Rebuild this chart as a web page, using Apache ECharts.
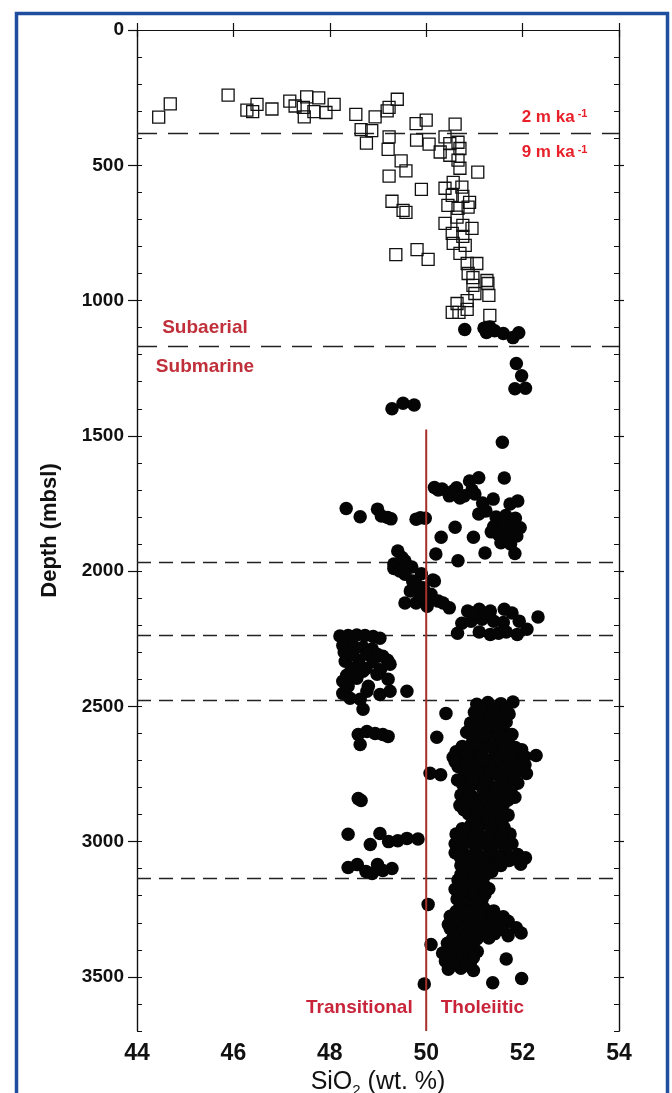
<!DOCTYPE html>
<html><head><meta charset="utf-8">
<script src="https://cdn.jsdelivr.net/npm/echarts@6/dist/echarts.min.js"></script>
<style>html,body{margin:0;padding:0;background:#fff}#c{width:672px;height:1093px}</style>
</head><body><div id="c"></div>
<script>
// ---- Data (SiO2 wt.%, depth mbsl) ----
const subaerialLavas = [
[44.45,322],[44.69,273],[45.89,241],[46.28,296],[46.4,302],[46.49,275],[46.8,292],[47.17,263],[47.28,281],[47.45,286],[47.47,321],[47.52,247],[47.67,302],[47.77,251],[47.92,305],[48.09,275],
[48.54,312],[48.94,321],[48.65,368],[48.87,372],[48.76,418],[49.23,395],[49.21,441],[49.4,256],[49.23,286],[49.19,299],[49.79,346],[50.0,333],[49.8,407],[50.06,422],[49.48,484],[49.58,521],[49.23,540],[49.9,589],[49.29,633],[49.52,667],[49.58,674],[49.37,830],[49.81,812],[50.04,848],
[50.6,348],[50.39,395],[50.49,420],[50.66,415],[50.29,451],[50.49,463],[50.7,438],[50.66,481],[50.7,511],[51.07,525],[50.56,563],[50.39,585],[50.74,581],[50.54,611],[50.76,615],[50.9,637],[50.45,648],[50.66,659],[50.87,655],[50.64,692],[50.39,715],[50.76,722],[50.95,733],[50.54,752],[50.76,763],[50.56,789],[50.81,796],[50.7,826],[50.85,863],[51.05,863],[50.87,900],[50.97,915],[51.26,926],[50.97,944],[51.28,937],[51.01,974],[51.3,981],[50.85,1000],[50.64,1011],[50.54,1044],[50.68,1044],[50.85,1033],[51.32,1055]
];
const submarineUpper = [
[50.8,1107],[51.2,1102],[51.32,1098],[51.42,1112],[51.6,1122],[51.8,1137],[51.92,1119],[51.25,1118],
[51.87,1233],[51.98,1278],[51.84,1326],[52.06,1324],
[49.29,1400],[49.52,1380],[49.75,1386],
[51.58,1524],[51.62,1656],
[50.17,1691],[50.33,1697],[50.48,1722],[50.63,1692],[50.79,1722],[50.9,1667],[51.09,1655],[51.01,1715],[51.17,1748],[51.39,1734],[51.09,1789],[51.24,1778],[51.74,1752],[51.9,1741],[50.25,1700],[50.55,1705],[50.95,1700],[50.7,1730],
[48.34,1769],[48.63,1799],[48.99,1771],[49.07,1796],[49.2,1802],[49.27,1807],[49.79,1808],[49.98,1805],[49.88,1803],
[50.6,1838],[50.31,1875],[50.98,1875],[50.2,1937],[50.66,1962],[51.22,1933],
[51.45,1800],[51.65,1795],[51.85,1805],[51.4,1835],[51.6,1830],[51.8,1835],[51.95,1840],[51.5,1865],[51.7,1862],[51.88,1870],[51.55,1895],[51.75,1900],[51.84,1935],[51.35,1855],
[49.41,1926],[49.33,1974],[49.56,1963],[49.7,1985],[49.9,2010],[49.33,1990],[49.56,2012],[49.72,2037],[49.94,2062],[50.17,2037],[50.1,2086],[49.56,2118],[49.79,2118],[50.02,2130],[50.25,2111],[50.48,2136],[49.87,2086],[49.67,2074],[50.14,2033],[49.5,1950],[49.45,2000],[49.8,2050],[50.0,2100],[50.35,2118],
[50.86,2148],[51.1,2141],[51.33,2148],[51.62,2141],[51.78,2155],[52.32,2170],[50.74,2193],[50.93,2185],[51.16,2178],[51.4,2185],[51.6,2190],[51.93,2185],[50.65,2230],[51.33,2234],[51.5,2230],[51.89,2234],[52.09,2215],[51.1,2225],[51.66,2225],[50.96,2155]
];
const submarineLower = [
[48.21,2240],[48.38,2238],[48.56,2236],[48.73,2238],[48.9,2242],[49.04,2248],
[48.27,2275],[48.48,2275],[48.69,2282],[48.88,2288],
[48.3,2300],[48.6,2330],[48.9,2335],[49.2,2330],[48.45,2360],[48.75,2360],[49.05,2365],[48.35,2385],
[48.32,2333],[48.48,2307],[48.77,2307],[48.98,2307],[49.1,2315],[49.25,2344],
[48.27,2407],[48.56,2396],[48.69,2370],[48.98,2381],[49.21,2400],[49.6,2444],
[48.27,2452],[48.42,2470],[48.63,2474],[48.77,2444],[49.04,2456],[49.25,2444],[48.38,2426],[48.8,2426],
[48.69,2511],
[48.59,2604],[48.77,2593],[48.94,2600],[49.1,2604],[49.21,2611],[48.63,2641],
[48.59,2841],
[48.65,2848],[48.38,2973],[48.84,3011],[49.04,2970],[49.22,3000],[49.41,2997],[49.6,2988],[49.83,2990],[48.38,3096],[48.57,3085],[48.88,3118],[48.99,3085],[49.29,3099],[49.1,3107],[48.75,3110],
[51.05,2492],[51.28,2486],[51.55,2490],[51.8,2484],
[50.41,2526],[51.0,2522],[51.22,2530],[51.47,2524],[51.72,2528],
[50.92,2562],[51.15,2556],[51.4,2564],[51.66,2558],
[50.84,2596],[51.1,2592],[51.36,2600],[51.62,2594],[51.78,2604],
[50.22,2614],
[50.96,2632],[51.22,2628],[51.5,2636],
[50.62,2668],[50.86,2662],[51.12,2670],[51.42,2664],[51.7,2668],[51.98,2660],
[50.56,2688],[50.72,2696],[51.02,2692],[51.3,2698],[51.6,2690],[51.9,2700],[52.28,2682],
[50.66,2722],[50.92,2716],[51.2,2724],[51.5,2718],[51.8,2726],[52.05,2716],
[50.08,2747],[50.3,2753],[50.8,2752],[51.1,2758],[51.4,2750],[51.7,2756],[52.08,2748],
[50.76,2790],[51.04,2786],[51.32,2794],[51.62,2788],[51.9,2784],
[50.72,2828],[50.96,2834],[51.26,2826],[51.56,2832],[51.84,2836],
[50.7,2866],[51.0,2862],[51.3,2870],[51.6,2864],
[50.88,2898],[51.14,2904],[51.44,2896],[51.7,2902],
[50.94,2936],[51.2,2932],[51.5,2940],
[50.62,2972],[50.86,2966],[51.1,2974],[51.4,2968],[51.74,2972],
[50.6,3008],[50.9,3002],[51.2,3010],[51.5,3004],[51.78,3008],
[50.6,3041],[50.78,3044],[51.02,3038],[51.32,3046],[51.62,3040],[51.9,3048],[52.06,3060],
[50.86,3072],[51.12,3068],[51.42,3076],[51.72,3070],[51.96,3084],
[50.84,3106],[51.1,3102],[51.36,3110],
[50.66,3142],[50.92,3138],[51.16,3146],
[50.6,3176],[50.86,3172],[51.1,3180],[51.3,3174],
[50.64,3212],[50.9,3208],[51.16,3214],
[50.04,3232],[50.7,3242],[50.96,3238],[51.2,3246],
[50.5,3276],[50.76,3272],[51.02,3280],[51.3,3274],[51.6,3278],
[50.46,3306],[50.72,3302],[50.98,3310],[51.22,3304],[51.5,3308],[51.87,3318],
[50.6,3342],[50.86,3338],[51.12,3346],[51.42,3340],[51.7,3348],[51.97,3338],
[50.1,3380],[50.44,3376],[50.7,3372],[50.96,3380],
[50.34,3412],[50.6,3408],[50.86,3414],[51.06,3406],
[50.4,3442],[50.66,3438],[50.92,3446],[51.66,3434],
[50.46,3472],[50.72,3468],[50.98,3476],
[51.98,3506],[51.38,3522],[49.96,3526],
[51.15,2508],[51.4,2506],[51.65,2510],
[51.1,2543],[51.33,2540],[51.58,2545],
[51.0,2578],[51.25,2576],[51.5,2580],
[50.97,2612],[51.23,2610],[51.48,2615],[51.7,2618],
[50.75,2648],[51.05,2645],[51.35,2650],[51.62,2646],[51.85,2652],
[50.84,2680],[51.15,2678],[51.45,2682],[51.75,2676],[52.05,2686],
[50.6,2705],[50.85,2708],[51.15,2704],[51.45,2707],[51.75,2710],
[50.8,2738],[51.05,2736],[51.35,2740],[51.62,2735],[51.92,2740],
[50.65,2772],[50.95,2770],[51.25,2774],[51.55,2770],[51.82,2776],
[50.88,2808],[51.18,2806],[51.46,2810],[51.76,2806],
[50.84,2848],[51.12,2846],[51.42,2850],[51.7,2846],
[50.78,2882],[51.05,2880],[51.3,2884],[51.55,2880],
[51.02,2918],[51.3,2916],[51.58,2920],
[50.75,2952],[51.06,2950],[51.34,2954],[51.62,2950],
[50.7,2988],[50.98,2986],[51.28,2990],[51.58,2986],
[50.72,3022],[51.05,3020],[51.36,3024],[51.66,3020],
[50.7,3056],[50.96,3054],[51.2,3058],[51.5,3056],[51.78,3058],
[50.72,3088],[50.98,3086],[51.26,3090],[51.55,3088],
[50.72,3122],[51.0,3120],[51.22,3124],
[50.76,3158],[51.02,3156],[51.2,3160],
[50.72,3192],[50.98,3190],[51.22,3194],
[50.78,3226],[51.05,3224],
[50.62,3258],[50.88,3256],[51.12,3260],[51.4,3256],
[50.6,3290],[50.86,3288],[51.12,3292],[51.38,3290],[51.7,3294],
[50.5,3322],[50.78,3320],[51.05,3324],[51.3,3322],[51.6,3326],
[50.55,3358],[50.82,3356],[51.05,3360],[51.3,3356],
[50.55,3392],[50.78,3390],[50.98,3394],
[50.5,3425],[50.76,3424],[50.98,3428],
[50.55,3456],[50.82,3458]
];
const rateBoundaryDepths = [380];
const environmentBoundaryDepths = [1170];
const chemBoundaryDepths = [1968, 2237, 2479, 3137];
const alkalicDivideLine = [[50, 1477], [50, 3700]];
const xTickValues = [44, 46, 48, 50, 52, 54];
const depthLabelValues = [0, 500, 1000, 1500, 2000, 2500, 3000, 3500];
const depthMinorValues = [0,100,200,300,400,500,600,700,800,900,1000,1100,1200,1300,1400,1500,1600,1700,1800,1900,2000,2100,2200,2300,2400,2500,2600,2700,2800,2900,3000,3100,3200,3300,3400,3500,3600,3700];

const FONT = "'Liberation Sans', Arial, Helvetica, sans-serif";
const chart = echarts.init(document.getElementById('c'), null, {renderer: 'canvas'});
const axisLineStyle = {color: '#111', width: 1.2};
const baseY = (extra) => Object.assign({
  type: 'value', inverse: true, min: 0, max: 3700,
  axisLine: {show: true, lineStyle: axisLineStyle},
  splitLine: {show: false}, axisLabel: {show: false}
}, extra);
const baseX = (extra) => Object.assign({
  type: 'value', min: 44, max: 54, interval: 2,
  axisLine: {show: true, lineStyle: axisLineStyle},
  splitLine: {show: false}
}, extra);

const dashLong = {type: [20, 11], color: '#222', width: 1.3};
const dashShort = {type: [14, 8], color: '#222', width: 1.3};
const supRich = {
  r: {fontSize: 17, fontWeight: 'bold', color: '#e8202a', fontFamily: FONT, verticalAlign: 'top', lineHeight: 18},
  sup: {fontSize: 11, fontWeight: 'bold', color: '#e8202a', fontFamily: FONT, verticalAlign: 'top', lineHeight: 11}
};

const option = {
  animation: false,
  backgroundColor: '#ffffff',
  grid: {left: 137, top: 30, width: 482, height: 1001, containLabel: false, outerBoundsMode: 'none'},
  xAxis: [
    baseX({position: 'bottom',
      axisTick: {inside: true, length: 7, lineStyle: {color: '#111', width: 1.2}, customValues: xTickValues},
      axisLabel: {fontSize: 23, fontWeight: 'bold', color: '#111', fontFamily: FONT, margin: 11, customValues: xTickValues},
      name: '{n|SiO}{s|2}{n| (wt. %)}', nameLocation: 'middle', nameGap: 36,
      nameTextStyle: {rich: {
        n: {fontSize: 25, fontFamily: FONT, color: '#111', verticalAlign: 'bottom', lineHeight: 28},
        s: {fontSize: 15, fontFamily: FONT, color: '#111', verticalAlign: 'bottom', lineHeight: 15, padding: [0, 0, -3, 0]}
      }}
    }),
    baseX({position: 'top', axisTick: {inside: false, length: -7, lineStyle: {color: '#111', width: 1.2}, customValues: xTickValues}, axisLabel: {show: false}})
  ],
  yAxis: [
    baseY({position: 'left',
      axisTick: {inside: false, length: 9, lineStyle: {color: '#111', width: 1.2}, customValues: depthLabelValues},
      axisLabel: {show: true, fontSize: 19, fontWeight: 'bold', color: '#111', fontFamily: FONT, margin: 13,
        customValues: depthLabelValues, formatter: (v) => String(v)},
      name: 'Depth (mbsl)', nameLocation: 'middle', nameGap: 76, nameRotate: 90,
      nameTextStyle: {fontSize: 22, fontWeight: 'bold', color: '#111', fontFamily: FONT}
    }),
    baseY({position: 'left', axisTick: {inside: true, length: 5, lineStyle: {color: '#111', width: 1}, customValues: depthMinorValues}}),
    baseY({position: 'right', axisTick: {inside: false, length: 5, lineStyle: {color: '#111', width: 1.2}, customValues: depthLabelValues.slice(1)}}),
    baseY({position: 'right', axisTick: {inside: true, length: 5, lineStyle: {color: '#111', width: 1}, customValues: depthMinorValues}})
  ],
  series: [
    {
      name: 'Subaerial', type: 'scatter', xAxisIndex: 0, yAxisIndex: 0,
      symbol: 'rect', symbolSize: 12, data: subaerialLavas, z: 3,
      itemStyle: {color: 'rgba(255,255,255,0)', borderColor: '#111', borderWidth: 1.3, opacity: 1}
    },
    {
      name: 'Submarine upper', type: 'scatter', xAxisIndex: 0, yAxisIndex: 0,
      symbol: 'circle', symbolSize: 13.5, data: submarineUpper, z: 3,
      itemStyle: {color: '#050505', opacity: 1},
      markLine: {
        silent: true, symbol: ['none', 'none'], label: {show: false}, z: 2,
        data: [
          ...rateBoundaryDepths.map(v => ({yAxis: v, lineStyle: dashLong})),
          ...environmentBoundaryDepths.map(v => ({yAxis: v, lineStyle: dashLong})),
          ...chemBoundaryDepths.map(v => ({yAxis: v, lineStyle: dashShort}))
        ]
      }
    },
    {
      name: 'Submarine lower', type: 'scatter', xAxisIndex: 0, yAxisIndex: 0,
      symbol: 'circle', symbolSize: 13.5, data: submarineLower, z: 3,
      itemStyle: {color: '#050505', opacity: 1}
    },
    {
      name: 'Divide', type: 'line', xAxisIndex: 0, yAxisIndex: 0, data: alkalicDivideLine,
      symbol: 'none', z: 5, lineStyle: {color: '#a8302c', width: 2}
    },
    {
      name: 'Annotations', type: 'scatter', xAxisIndex: 0, yAxisIndex: 0, z: 6,
      symbolSize: 1, itemStyle: {color: 'rgba(0,0,0,0)', opacity: 1}, silent: true,
      label: {show: true, distance: 0, fontFamily: FONT, fontWeight: 'bold'},
      data: [
        {value: [51.97, 325], label: {position: 'right', formatter: '{r|2 m ka}{sup| -1}', rich: supRich}},
        {value: [51.97, 455], label: {position: 'right', formatter: '{r|9 m ka}{sup| -1}', rich: supRich}},
        {value: [45.41, 1101], label: {position: 'inside', formatter: 'Subaerial', fontSize: 19, color: '#c0303a'}},
        {value: [45.41, 1245], label: {position: 'inside', formatter: 'Submarine', fontSize: 19, color: '#c0303a'}},
        {value: [49.73, 3614], label: {position: 'left', formatter: 'Transitional', fontSize: 19, color: '#c8243a'}},
        {value: [50.29, 3614], label: {position: 'right', formatter: 'Tholeiitic', fontSize: 19, color: '#c8243a'}}
      ]
    }
  ],
  graphic: [{
    type: 'rect', left: 14, top: 11, z: 100, silent: true,
    shape: {width: 651, height: 1100},
    style: {fill: 'none', stroke: '#1f4e9e', lineWidth: 3.5}
  }]
};
chart.setOption(option);
</script>
</body></html>
